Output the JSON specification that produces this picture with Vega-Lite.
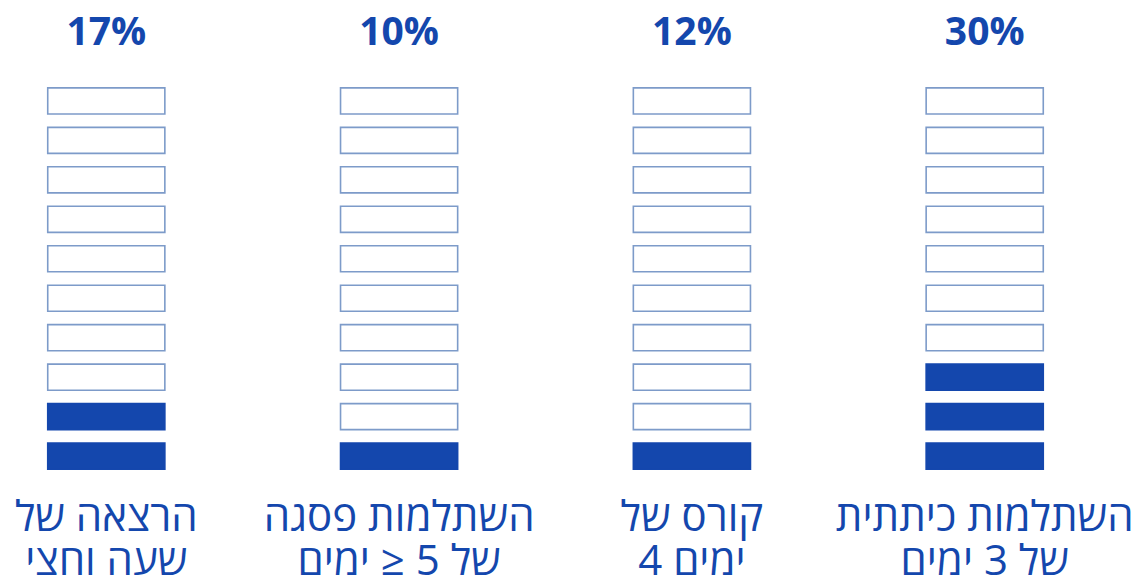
{
  "$schema": "https://vega.github.io/schema/vega-lite/v6.json",
  "width": 1091,
  "height": 397,
  "padding": 0,
  "background": "#ffffff",
  "config": {"view": {"stroke": null}},
  "data": {
    "values": [
      {"name": "הרצאה של|שעה וחצי", "pct": "17%", "row": 10, "status": "empty"},
      {"name": "הרצאה של|שעה וחצי", "pct": "17%", "row": 9, "status": "empty"},
      {"name": "הרצאה של|שעה וחצי", "pct": "17%", "row": 8, "status": "empty"},
      {"name": "הרצאה של|שעה וחצי", "pct": "17%", "row": 7, "status": "empty"},
      {"name": "הרצאה של|שעה וחצי", "pct": "17%", "row": 6, "status": "empty"},
      {"name": "הרצאה של|שעה וחצי", "pct": "17%", "row": 5, "status": "empty"},
      {"name": "הרצאה של|שעה וחצי", "pct": "17%", "row": 4, "status": "empty"},
      {"name": "הרצאה של|שעה וחצי", "pct": "17%", "row": 3, "status": "empty"},
      {"name": "הרצאה של|שעה וחצי", "pct": "17%", "row": 2, "status": "filled"},
      {"name": "הרצאה של|שעה וחצי", "pct": "17%", "row": 1, "status": "filled"},
      {"name": "השתלמות פסגה|של 5 ≤ ימים", "pct": "10%", "row": 10, "status": "empty"},
      {"name": "השתלמות פסגה|של 5 ≤ ימים", "pct": "10%", "row": 9, "status": "empty"},
      {"name": "השתלמות פסגה|של 5 ≤ ימים", "pct": "10%", "row": 8, "status": "empty"},
      {"name": "השתלמות פסגה|של 5 ≤ ימים", "pct": "10%", "row": 7, "status": "empty"},
      {"name": "השתלמות פסגה|של 5 ≤ ימים", "pct": "10%", "row": 6, "status": "empty"},
      {"name": "השתלמות פסגה|של 5 ≤ ימים", "pct": "10%", "row": 5, "status": "empty"},
      {"name": "השתלמות פסגה|של 5 ≤ ימים", "pct": "10%", "row": 4, "status": "empty"},
      {"name": "השתלמות פסגה|של 5 ≤ ימים", "pct": "10%", "row": 3, "status": "empty"},
      {"name": "השתלמות פסגה|של 5 ≤ ימים", "pct": "10%", "row": 2, "status": "empty"},
      {"name": "השתלמות פסגה|של 5 ≤ ימים", "pct": "10%", "row": 1, "status": "filled"},
      {"name": "קורס של|ימים 4", "pct": "12%", "row": 10, "status": "empty"},
      {"name": "קורס של|ימים 4", "pct": "12%", "row": 9, "status": "empty"},
      {"name": "קורס של|ימים 4", "pct": "12%", "row": 8, "status": "empty"},
      {"name": "קורס של|ימים 4", "pct": "12%", "row": 7, "status": "empty"},
      {"name": "קורס של|ימים 4", "pct": "12%", "row": 6, "status": "empty"},
      {"name": "קורס של|ימים 4", "pct": "12%", "row": 5, "status": "empty"},
      {"name": "קורס של|ימים 4", "pct": "12%", "row": 4, "status": "empty"},
      {"name": "קורס של|ימים 4", "pct": "12%", "row": 3, "status": "empty"},
      {"name": "קורס של|ימים 4", "pct": "12%", "row": 2, "status": "empty"},
      {"name": "קורס של|ימים 4", "pct": "12%", "row": 1, "status": "filled"},
      {"name": "השתלמות כיתתית|של 3 ימים", "pct": "30%", "row": 10, "status": "empty"},
      {"name": "השתלמות כיתתית|של 3 ימים", "pct": "30%", "row": 9, "status": "empty"},
      {"name": "השתלמות כיתתית|של 3 ימים", "pct": "30%", "row": 8, "status": "empty"},
      {"name": "השתלמות כיתתית|של 3 ימים", "pct": "30%", "row": 7, "status": "empty"},
      {"name": "השתלמות כיתתית|של 3 ימים", "pct": "30%", "row": 6, "status": "empty"},
      {"name": "השתלמות כיתתית|של 3 ימים", "pct": "30%", "row": 5, "status": "empty"},
      {"name": "השתלמות כיתתית|של 3 ימים", "pct": "30%", "row": 4, "status": "empty"},
      {"name": "השתלמות כיתתית|של 3 ימים", "pct": "30%", "row": 3, "status": "filled"},
      {"name": "השתלמות כיתתית|של 3 ימים", "pct": "30%", "row": 2, "status": "filled"},
      {"name": "השתלמות כיתתית|של 3 ימים", "pct": "30%", "row": 1, "status": "filled"}
    ]
  },
  "encoding": {
    "y": {
      "field": "row",
      "type": "ordinal",
      "sort": "descending",
      "scale": {"paddingInner": 0.34, "paddingOuter": 0.2},
      "axis": null
    }
  },
  "layer": [
    {
      "mark": {"type": "rect", "strokeWidth": 1.6},
      "encoding": {
        "x": {
          "field": "name",
          "type": "nominal",
          "sort": null,
          "scale": {"paddingInner": 0.6, "paddingOuter": 0.163},
          "axis": {
            "orient": "bottom",
            "title": null,
            "domain": false,
            "ticks": false,
            "tickSize": 0,
            "labelAngle": 0,
            "labelExpr": "split(datum.label, '|')",
            "labelFont": "Open Sans",
            "labelFontSize": 42,
            "labelFontWeight": "normal",
            "labelColor": "#1447AD",
            "labelBaseline": "alphabetic",
            "labelPadding": 53,
            "labelLineHeight": 44,
            "labelLimit": 0,
            "labelOverlap": false
          }
        },
        "fill": {
          "field": "status",
          "type": "nominal",
          "scale": {"domain": ["filled", "empty"], "range": ["#1447AD", "#FFFFFF"]},
          "legend": null
        },
        "stroke": {
          "field": "status",
          "type": "nominal",
          "scale": {"domain": ["filled", "empty"], "range": ["#1447AD", "#7D9BC9"]},
          "legend": null
        }
      }
    },
    {
      "mark": {"type": "rect", "opacity": 0},
      "encoding": {
        "x": {
          "field": "pct",
          "type": "nominal",
          "sort": null,
          "scale": {"paddingInner": 0.6, "paddingOuter": 0.163},
          "axis": {
            "orient": "top",
            "title": null,
            "domain": false,
            "ticks": false,
            "tickSize": 0,
            "labelAngle": 0,
            "labelFont": "Open Sans",
            "labelFontSize": 39,
            "labelFontWeight": "bold",
            "labelColor": "#1447AD",
            "labelBaseline": "alphabetic",
            "labelPadding": 36,
            "minExtent": 80,
            "maxExtent": 80
          }
        }
      }
    }
  ],
  "resolve": {"scale": {"x": "independent", "fill": "shared", "stroke": "shared"}, "axis": {"x": "independent"}}
}
